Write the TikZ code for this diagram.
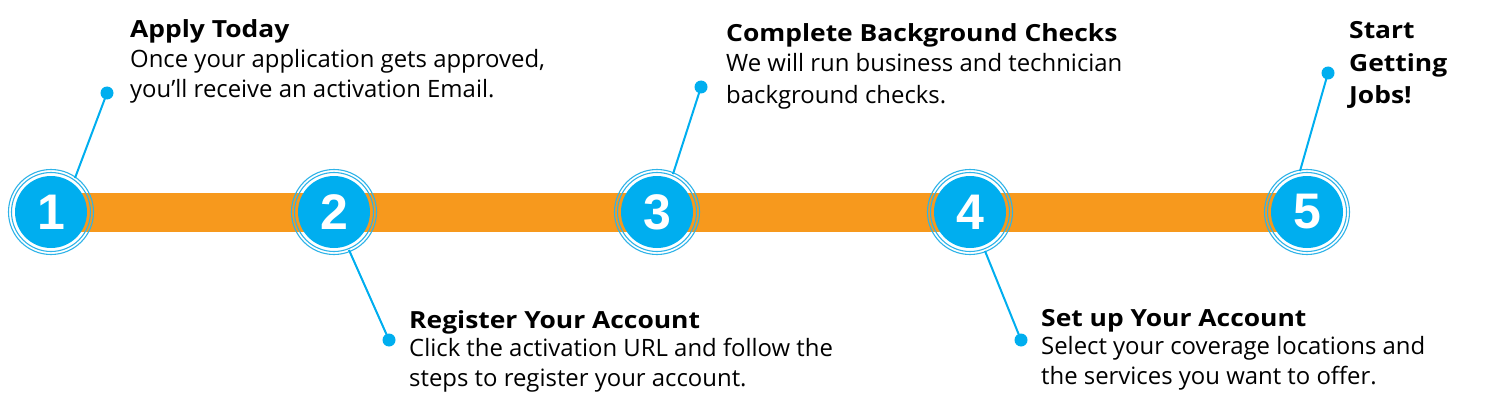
\documentclass[tikz,border=0pt]{standalone}
\usepackage{fontspec}
\setmainfont{Open Sans}
\newfontfamily\titlefont{Open Sans}[FakeStretch=1.12]
\newfontfamily\numfont{Liberation Sans}
\definecolor{barorange}{HTML}{F7991D}
\definecolor{stepblue}{HTML}{00AEEF}
\definecolor{ringblue}{HTML}{2EB3E8}
\tikzset{
  stepcircle/.style={circle, fill=stepblue, minimum size=72pt, inner sep=0pt, text=white, font=\numfont\bfseries\fontsize{50}{50}\selectfont},
  ring/.style={draw=ringblue, line width=1.1pt},
  dot/.style={circle, fill=stepblue, minimum size=13pt, inner sep=0pt},
  conn/.style={draw=stepblue, line width=2pt},
  titletext/.style={anchor=base west, inner sep=0pt, font=\titlefont\bfseries\fontsize{23.6}{28}\selectfont},
  bodytext/.style={anchor=base west, inner sep=0pt, font=\fontsize{23.9}{28}\selectfont},
}
\begin{document}
\begin{tikzpicture}[x=1pt,y=-1pt]
\useasboundingbox (0,0) rectangle (1500,420);
% bar
\fill[barorange] (51,193) rectangle (1307,232);
% circles
\foreach \n/\x in {1/51,2/334,3/657,4/970,5/1307}{
  \draw[ring] (\x,212) circle (39.5);
  \draw[ring] (\x,212) circle (42.5);
  \node[stepcircle] (c\n) at (\x,212) {\n};
}
% dots and connector ends
\node[dot] (d1) at (107,93) {};
\node[dot] (d2) at (389,340) {};
\node[dot] (d3) at (701,87) {};
\node[dot] (d4) at (1021,340) {};
\node[dot] (d5) at (1328,73) {};
\coordinate (e1) at (75,178);
\coordinate (e2) at (349,250);
\coordinate (e3) at (673,174);
\coordinate (e4) at (985,251);
\coordinate (e5) at (1300,171);
\foreach \n in {1,...,5}{\draw[conn] (d\n.center) -- (e\n);}
% texts
\node[titletext] (t1) at (130,38) {Apply Today};
\node[bodytext] (b1a) at (130,67) {Once your application gets approved,};
\node[bodytext] (b1b) at (130,97) {you’ll receive an activation Email.};
\node[titletext] (t2) at (409,328) {Register Your Account};
\node[bodytext] (b2a) at (409,356) {Click the activation URL and follow the};
\node[bodytext] (b2b) at (409,386) {steps to register your account.};
\node[titletext] (t3) at (726,42) {Complete Background Checks};
\node[bodytext] (b3a) at (726,71) {We will run business and technician};
\node[bodytext] (b3b) at (726,103) {background checks.};
\node[titletext] (t4) at (1041,326) {Set up Your Account};
\node[bodytext] (b4a) at (1041,354) {Select your coverage locations and};
\node[bodytext] (b4b) at (1041,384) {the services you want to offer.};
\node[titletext] (t5a) at (1349,39) {Start};
\node[titletext] (t5b) at (1349,71) {Getting};
\node[titletext] (t5c) at (1349,103) {Jobs!};
\end{tikzpicture}
\end{document}
